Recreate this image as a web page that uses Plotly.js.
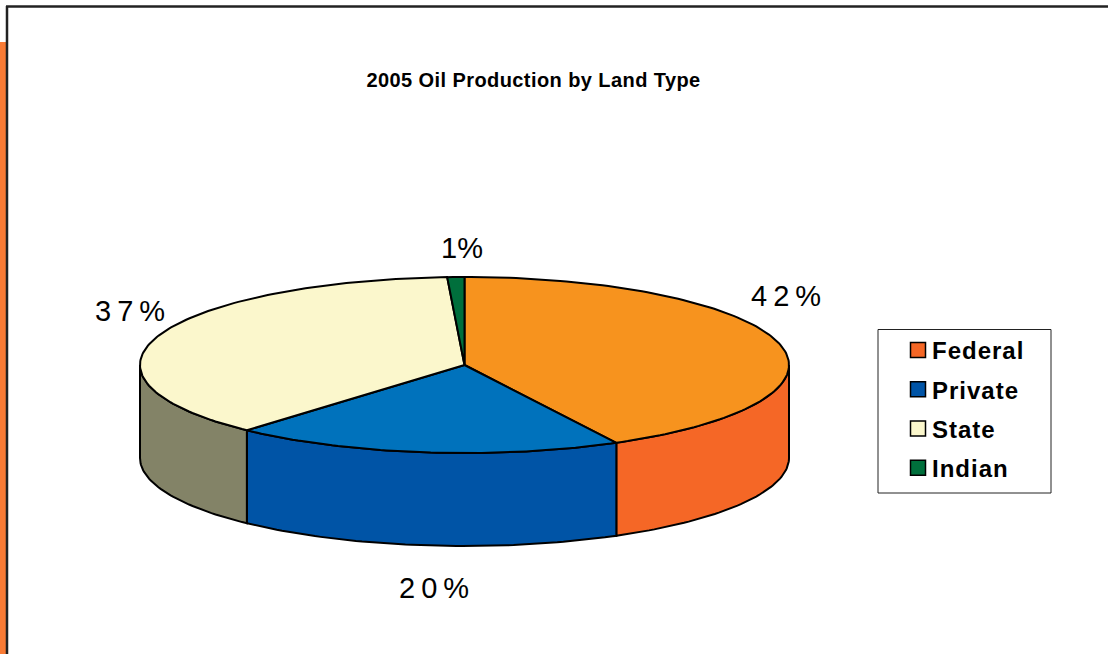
<!DOCTYPE html>
<html>
<head>
<meta charset="utf-8">
<script src="https://cdn.plot.ly/plotly-3.0.1.min.js"></script>
<style>
html,body{margin:0;padding:0;background:#fff;}
#chart{width:1108px;height:654px;}
.legend .legendtext{transform:translateX(-6px);letter-spacing:1px;}
.gtitle{letter-spacing:0.42px;}
</style>
</head>
<body>
<div id="chart"></div>
<script>
var categories = ['Federal','Private','State','Indian'];
var shares = [42.25, 19.45, 37.45, 0.85];
var shareLabels = ['42%','20%','37%','1%'];
var topColors = ['#F7931E','#0072BC','#FBF7CC','#006F3C'];
var sideColors = ['#F56726','#0054A6','#838367','#006F3C'];
var legendColors = ['#F56726','#0054A6','#FBF7CC','#006F3C'];
var labelX = [788.5,436.5,133,462];
var labelY = [296,588,311,248];

var cx=464.5, cy=365, rx=324.5, ry=88, depth=93;
function px(a){return cx+rx*Math.sin(a);}
function py(a){return cy-ry*Math.cos(a);}
function arc(a0,a1){var n=Math.max(2,Math.ceil(Math.abs(a1-a0)/0.02)),r=[];
  for(var i=0;i<=n;i++){r.push(a0+(a1-a0)*i/n);}return r;}
var total=shares.reduce(function(s,v){return s+v;},0);
var traces=[], tops=[], cum=0;
categories.forEach(function(c,i){
  var a0=cum/total*2*Math.PI; cum+=shares[i]; var a1=cum/total*2*Math.PI;
  // visible side wall: front half of the ellipse only
  var s0=Math.max(a0,Math.PI/2), s1=Math.min(a1,1.5*Math.PI);
  if(s1>s0){
    var as=arc(s0,s1), x=[],y=[];
    as.forEach(function(a){x.push(px(a));y.push(py(a));});
    as.slice().reverse().forEach(function(a){x.push(px(a));y.push(py(a)+depth);});
    x.push(x[0]);y.push(y[0]);
    traces.push({type:'scatter',mode:'lines',x:x,y:y,fill:'toself',fillcolor:sideColors[i],
      line:{color:'#000',width:2},showlegend:false,hoverinfo:'skip'});
  }
  var tx=[cx],ty=[cy];
  arc(a0,a1).forEach(function(a){tx.push(px(a));ty.push(py(a));});
  tx.push(cx);ty.push(cy);
  tops.push({type:'scatter',mode:'lines',x:tx,y:ty,fill:'toself',fillcolor:topColors[i],
    line:{color:'#000',width:2},showlegend:false,name:c,hoverinfo:'name'});
});
traces=traces.concat(tops);
categories.forEach(function(c,i){
  traces.push({type:'scatter',mode:'markers',x:[null],y:[null],name:c,legendgroup:c,showlegend:true,
    marker:{symbol:'square',size:15,color:legendColors[i],line:{color:'#000',width:1.5}}});
});

var annotations=categories.map(function(c,i){
  return {x:labelX[i],y:labelY[i],xref:'x',yref:'y',text:shareLabels[i],showarrow:false,
    xanchor:'center',yanchor:'middle',font:{family:'Liberation Sans',size:29,color:'#000'}};
});

var layout={
  width:1108,height:654,margin:{l:0,r:0,t:0,b:0},
  paper_bgcolor:'#fff',plot_bgcolor:'#fff',
  font:{family:'Liberation Sans',color:'#000'},
  title:{text:'<b>2005 Oil Production by Land Type</b>',font:{family:'Liberation Sans',size:20,color:'#000'},
    x:533.5/1108,xanchor:'center',y:1-80/654,yanchor:'middle'},
  xaxis:{range:[0,1108],visible:false,fixedrange:true},
  yaxis:{range:[654,0],visible:false,fixedrange:true},
  annotations:annotations,
  showlegend:true,
  legend:{x:898/1108,xanchor:'left',y:1-328/654,yanchor:'top',bgcolor:'rgba(0,0,0,0)',borderwidth:0,
    tracegroupgap:5,itemclick:false,itemdoubleclick:false,
    font:{family:'Liberation Sans',size:24,color:'#000',weight:'bold'}},
  shapes:[
    {type:'rect',xref:'x',yref:'y',x0:0,x1:6,y0:42,y1:654,fillcolor:'#F97B35',line:{width:0},layer:'below'},
    {type:'line',xref:'x',yref:'y',x0:7,x1:7,y0:6,y1:654,line:{color:'#222',width:2.5},layer:'below'},
    {type:'line',xref:'x',yref:'y',x0:6,x1:1108,y0:6.5,y1:6.5,line:{color:'#222',width:2.5},layer:'below'},
    {type:'rect',xref:'x',yref:'y',x0:878,x1:1051,y0:329.5,y1:493,fillcolor:'#fff',line:{color:'#222',width:1},layer:'below'}
  ]
};
Plotly.newPlot('chart',traces,layout,{displayModeBar:false}).then(function(){
  document.querySelectorAll('.annotation-text').forEach(function(t){
    if(t.textContent!=='1%'){t.style.letterSpacing='6px';}
  });
});
</script>
</body>
</html>
